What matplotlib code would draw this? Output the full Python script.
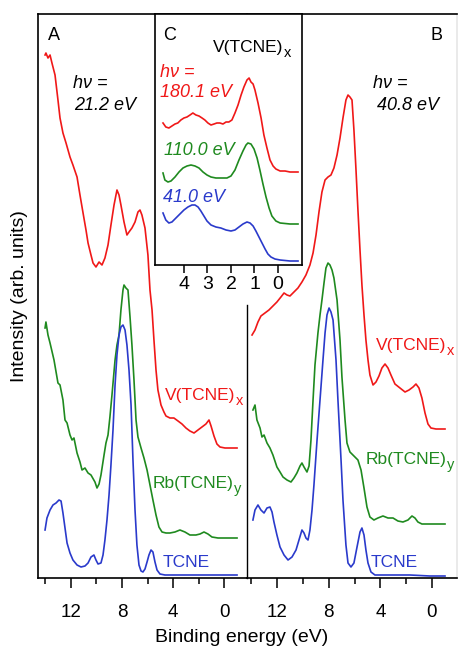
import matplotlib
matplotlib.use("Agg")
import matplotlib.pyplot as plt

plt.rcParams['font.family'] = ['Liberation Sans', 'DejaVu Sans']

# ---------------- data (binding energy in eV, intensity in arb. units) -------------
# Panel A, hv = 21.2 eV
eA_red = [14.02, 13.95, 13.79, 13.63, 13.48, 13.24, 13.01, 12.85, 12.62, 12.38, 12.07, 11.84,
          11.52, 11.29, 11.05, 10.82, 10.66, 10.43, 10.27, 10.04, 9.80, 9.57, 9.34, 9.10, 8.87,
          8.63, 8.40, 8.24, 8.09, 7.85, 7.62, 7.46, 7.23, 6.99, 6.76, 6.60, 6.45, 6.21, 5.98,
          5.82, 5.66, 5.51, 5.35, 5.20, 4.96, 4.73, 4.57, 4.26, 3.95, 3.63, 3.32, 3.01, 2.70,
          2.38, 2.07, 1.76, 1.45, 1.21, 1.05, 0.82, 0.59, 0.35, -0.04, -0.51, -0.98]
iA_red = [523, 525, 520, 523, 515, 503, 478, 460, 445, 435, 421, 413,
          401, 383, 365, 348, 335, 323, 315, 311, 316, 313, 320, 333, 353,
          373, 388, 383, 373, 356, 343, 346, 350, 356, 366, 368, 363, 350, 323,
          288, 268, 238, 208, 188, 173, 166, 162, 160, 160, 157, 154, 150, 147,
          145, 148, 151, 154, 158, 152, 142, 134, 131, 130, 130, 130]

eA_green = [14.02, 13.95, 13.79, 13.63, 13.32, 13.01, 12.85, 12.62, 12.46, 12.30, 12.07, 11.91,
            11.76, 11.52, 11.29, 11.13, 10.90, 10.66, 10.43, 10.12, 9.96, 9.80, 9.65, 9.41,
            9.26, 9.10, 8.95, 8.79, 8.55, 8.40, 8.24, 8.09, 7.93, 7.85, 7.70, 7.54, 7.38, 7.23,
            7.07, 6.91, 6.76, 6.52, 6.29, 6.05, 5.82, 5.59, 5.35, 5.12, 4.88, 4.57, 4.26, 3.87,
            3.48, 3.09, 2.70, 2.23, 1.91, 1.60, 1.29, 0.98, 0.51, -0.04, -0.98]
iA_green = [250, 256, 243, 235, 218, 195, 193, 178, 158, 155, 143, 138,
            140, 125, 116, 108, 110, 105, 103, 96, 90, 94, 103, 123,
            135, 143, 161, 183, 218, 233, 243, 268, 288, 293, 290, 288, 261, 233,
            198, 158, 141, 130, 120, 108, 93, 78, 63, 51, 46, 45, 45, 46,
            48, 46, 43, 43, 44, 46, 44, 41, 40, 40, 40]

eA_blue = [14.02, 13.87, 13.63, 13.40, 13.16, 12.93, 12.77, 12.62, 12.46, 12.30, 12.07, 11.84,
           11.52, 11.21, 10.90, 10.66, 10.43, 10.20, 10.04, 9.88, 9.65, 9.49, 9.34, 9.18, 9.02,
           8.87, 8.71, 8.55, 8.40, 8.24, 8.09, 7.93, 7.77, 7.62, 7.46, 7.30, 7.15, 6.99, 6.84,
           6.68, 6.52, 6.37, 6.21, 6.05, 5.90, 5.74, 5.59, 5.43, 5.27, 5.04, 4.65, 3.48, 1.91,
           0.35, -0.98]
iA_blue = [48, 60, 68, 73, 75, 78, 77, 65, 50, 35, 25, 18,
           13, 11, 12, 15, 21, 23, 18, 14, 15, 23, 38, 58, 83,
           113, 148, 193, 223, 243, 251, 253, 248, 233, 208, 173, 118, 68, 33,
           13, 7, 6, 9, 16, 23, 28, 26, 16, 8, 4, 3, 3, 3,
           3, 3]

# Panel B, hv = 40.8 eV
eB_red = [13.95, 13.72, 13.49, 13.26, 12.95, 12.64, 12.33, 12.02, 11.71, 11.47, 11.24, 11.01,
          10.70, 10.39, 10.08, 9.77, 9.46, 9.22, 8.99, 8.76, 8.53, 8.29, 8.06, 7.83, 7.60,
          7.36, 7.13, 6.90, 6.67, 6.51, 6.36, 6.20, 6.05, 5.89, 5.74, 5.58, 5.43, 5.27, 5.12,
          4.96, 4.81, 4.57, 4.34, 4.11, 3.88, 3.64, 3.41, 3.18, 2.87, 2.48, 2.09, 1.78, 1.47,
          1.24, 1.01, 0.78, 0.54, 0.31, 0.08, -0.31, -1.01]
iB_red = [243, 248, 256, 262, 265, 268, 272, 276, 281, 285, 283, 282,
          286, 290, 296, 303, 313, 325, 343, 366, 386, 398, 401, 403, 410,
          423, 440, 460, 478, 483, 481, 478, 448, 408, 368, 328, 293, 263, 238,
          218, 203, 193, 196, 202, 210, 214, 210, 203, 194, 190, 186, 188, 191,
          194, 190, 180, 165, 154, 150, 149, 149]

eB_green = [13.88, 13.72, 13.57, 13.33, 13.18, 13.02, 12.79, 12.56, 12.33, 12.02, 11.78, 11.55,
            11.24, 10.93, 10.70, 10.47, 10.23, 10.08, 9.92, 9.69, 9.53, 9.38, 9.22, 9.07, 8.84,
            8.68, 8.53, 8.37, 8.22, 8.06, 7.91, 7.75, 7.60, 7.36, 7.13, 6.98, 6.74, 6.59, 6.36,
            6.05, 5.74, 5.50, 5.27, 5.04, 4.81, 4.50, 4.19, 3.80, 3.41, 3.02, 2.64, 2.25, 1.86,
            1.55, 1.32, 1.09, 0.78, 0.16, -1.01]
iB_green = [168, 173, 158, 150, 141, 143, 135, 130, 123, 111, 106, 101,
            98, 96, 100, 105, 112, 115, 111, 106, 112, 138, 178, 213, 245,
            263, 278, 295, 310, 315, 313, 308, 300, 278, 238, 201, 158, 135, 126,
            122, 118, 108, 90, 71, 61, 58, 60, 62, 60, 60, 57, 56, 58,
            62, 60, 56, 54, 54, 54]

eB_blue = [13.88, 13.72, 13.49, 13.26, 13.02, 12.79, 12.56, 12.40, 12.25, 12.02, 11.78, 11.47,
           11.16, 10.85, 10.54, 10.31, 10.08, 9.92, 9.77, 9.61, 9.46, 9.30, 9.15, 8.91, 8.68,
           8.45, 8.29, 8.14, 7.98, 7.83, 7.67, 7.44, 7.29, 7.05, 6.90, 6.67, 6.51, 6.28, 6.05,
           5.81, 5.58, 5.43, 5.27, 5.12, 4.96, 4.73, 4.42, 3.26, 1.71, 0.16, -1.01]
iB_blue = [58, 68, 73, 68, 65, 70, 71, 66, 56, 43, 31, 23,
           18, 21, 28, 38, 48, 45, 40, 38, 48, 68, 93, 138, 178,
           218, 245, 263, 270, 266, 258, 218, 178, 118, 78, 33, 15, 11, 15,
           31, 46, 50, 43, 28, 15, 6, 3, 3, 3, 2, 2]

# Panel C, V(TCNE)x valence region at three photon energies
eC_red = [4.89, 4.77, 4.64, 4.51, 4.38, 4.26, 4.13, 4.00, 3.87, 3.74, 3.62, 3.49, 3.36, 3.23,
          3.11, 2.98, 2.85, 2.72, 2.60, 2.47, 2.34, 2.21, 2.09, 1.96, 1.83, 1.70, 1.57, 1.45,
          1.32, 1.23, 1.15, 1.06, 0.98, 0.85, 0.72, 0.60, 0.47, 0.34, 0.21, 0.09, -0.09, -0.30,
          -0.51, -0.85]
iC_red = [142, 138, 137, 139, 141, 142, 145, 147, 148, 150, 152, 150, 149, 147,
          145, 142, 140, 141, 142, 142, 141, 143, 143, 145, 152, 160, 170, 178,
          185, 187, 183, 181, 175, 162, 147, 130, 117, 105, 99, 96, 94, 94,
          93, 93]

eC_green = [4.89, 4.81, 4.68, 4.55, 4.38, 4.21, 4.04, 3.87, 3.70, 3.53, 3.36, 3.19, 3.02, 2.85,
            2.64, 2.38, 2.17, 2.00, 1.83, 1.66, 1.49, 1.36, 1.28, 1.15, 1.02, 0.89, 0.77, 0.64,
            0.51, 0.38, 0.26, 0.09, -0.09, -0.51, -0.85]
iC_green = [92, 85, 83, 84, 88, 93, 97, 99, 100, 99, 97, 93, 90, 88,
            87, 87, 87, 89, 95, 105, 114, 120, 122, 121, 116, 107, 95, 81,
            68, 57, 49, 44, 42, 41, 41]

eC_blue = [4.89, 4.77, 4.64, 4.51, 4.34, 4.17, 4.00, 3.83, 3.66, 3.53, 3.40, 3.28, 3.15, 3.02,
           2.85, 2.64, 2.43, 2.21, 2.00, 1.83, 1.66, 1.49, 1.32, 1.19, 1.06, 0.94, 0.81, 0.68,
           0.55, 0.43, 0.30, 0.13, -0.09, -0.51, -0.85]
iC_blue = [52, 45, 42, 43, 47, 51, 55, 58, 60, 60, 58, 54, 49, 44,
           40, 38, 37, 35, 34, 35, 38, 41, 43, 42, 39, 34, 28, 22,
           16, 11, 8, 6, 5, 4, 4]

main_major_ticks = [12, 8, 4, 0]
main_minor_ticks = [14, 10, 6, 2]
inset_ticks = [4, 3, 2, 1, 0]

RED = '#f01818'
GREEN = '#1f8a1f'
BLUE = '#2a3acb'

W, H = 458, 646
fig = plt.figure(figsize=(W / 100, H / 100), dpi=100)


def frac(x0, y0, x1, y1):
    return [x0 / W, 1 - y1 / H, (x1 - x0) / W, (y1 - y0) / H]


axA = fig.add_axes(frac(38, 14, 247, 578))
axB = fig.add_axes(frac(247, 14, 457, 578))
axC = fig.add_axes(frac(155, 14, 302, 265))

LW = 1.2
for ax, sets in [(axA, [(eA_red, iA_red, RED), (eA_green, iA_green, GREEN), (eA_blue, iA_blue, BLUE)]),
                 (axB, [(eB_red, iB_red, RED), (eB_green, iB_green, GREEN), (eB_blue, iB_blue, BLUE)])]:
    for e, i, c in sets:
        ax.plot(e, i, color=c, lw=LW)
    ax.set_ylim(0, 564)
    ax.set_xticks(main_major_ticks)
    ax.set_xticks(main_minor_ticks, minor=True)
    ax.set_yticks([])
    ax.tick_params(axis='x', which='major', direction='out', length=7, width=1.1,
                   labelsize=13.5, pad=11.5)
    ax.tick_params(axis='x', which='minor', direction='out', length=4, width=1.1)
    for s in ax.spines.values():
        s.set_linewidth(1.2)

axA.set_xlim(14.57, -1.76)
axB.set_xlim(14.34, -1.94)
axA.spines['right'].set_visible(False)
axB.spines['left'].set_bounds(0, 273)
axB.spines['left'].set_linewidth(1.0)
axB.spines['right'].set_color('#e6e6e6')

for e, i, c in [(eC_red, iC_red, RED), (eC_green, iC_green, GREEN), (eC_blue, iC_blue, BLUE)]:
    axC.plot(e, i, color=c, lw=LW)
axC.set_xlim(5.23, -1.02)
axC.set_ylim(0, 251)
axC.set_xticks(inset_ticks)
axC.set_yticks([])
axC.tick_params(axis='x', direction='out', length=6, width=1.1, labelsize=14, pad=2)
for s in axC.spines.values():
    s.set_linewidth(1.2)
axC.set_zorder(5)

renderer = fig.canvas.get_renderer()


def ftext(x, y, s, color='black', size=12.5, style='normal', ha='left'):
    return fig.text(x / W, 1 - y / H, s, color=color, fontsize=size, style=style,
                    ha=ha, va='baseline', zorder=20)


def subtext(x, y, main, sub, color='black', size=12.5, subsize=10.5, drop=5):
    t = ftext(x, y, main, color=color, size=size)
    bb = t.get_window_extent(renderer=renderer)
    xe = bb.x1 + 0.5
    ftext(xe, y + drop, sub, color=color, size=subsize)


# panel letters
ftext(48, 40, 'A', size=13)
ftext(163, 40, 'C', size=13)
ftext(431, 40, 'B', size=13)

# photon energies
ftext(73, 88, 'h\u03bd =', size=13, style='italic')
ftext(74, 110, '21.2 eV', size=13, style='italic')
ftext(373, 88, 'h\u03bd =', size=13, style='italic')
ftext(377, 110, '40.8 eV', size=13, style='italic')

subtext(213, 52, 'V(TCNE)', 'x', size=12.5)
ftext(160, 77, 'h\u03bd =', color=RED, size=13, style='italic')
ftext(160, 97, '180.1 eV', color=RED, size=13, style='italic')
ftext(164, 155, '110.0 eV', color=GREEN, size=13, style='italic')
ftext(163, 202, '41.0 eV', color=BLUE, size=13, style='italic')

# curve labels
subtext(165, 400, 'V(TCNE)', 'x', color=RED)
subtext(153, 488, 'Rb(TCNE)', 'y', color=GREEN)
ftext(163, 567, 'TCNE', color=BLUE)
subtext(376, 350, 'V(TCNE)', 'x', color=RED)
subtext(366, 464, 'Rb(TCNE)', 'y', color=GREEN)
ftext(371, 567, 'TCNE', color=BLUE)

fig.text(20 / W, 1 - 296 / H, 'Intensity (arb. units)', rotation=90, fontsize=14,
         ha='center', va='center')
fig.text(242 / W, 1 - 637 / H, 'Binding energy (eV)', fontsize=14, ha='center', va='center')

fig.savefig('out.png', dpi=100)
